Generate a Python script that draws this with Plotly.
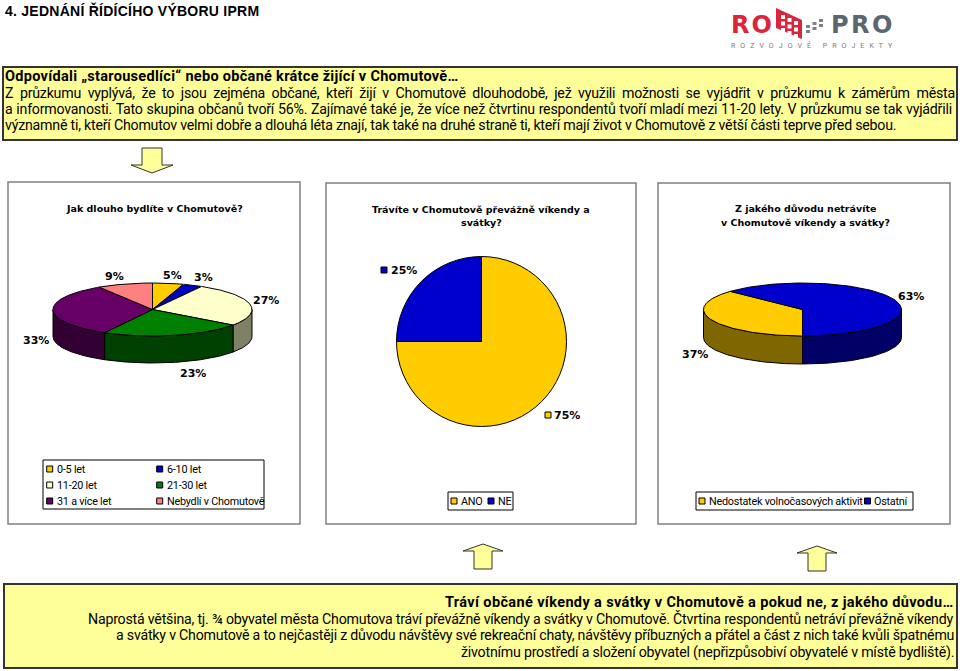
import numpy as np
import plotly.graph_objects as go

W, H = 960, 671

# chart data
stay_labels = ["0-5 let", "6-10 let", "11-20 let", "21-30 let", "31 a více let", "Nebydlí v Chomutově"]
stay_values = [5, 3, 27, 23, 33, 9]
weekend_labels = ["ANO", "NE"]
weekend_values = [75, 25]
reason_labels = ["Nedostatek volnočasových aktivit", "Ostatní"]
reason_values = [37, 63]

stay_colors = ["#FFCC00", "#0000CC", "#FFFFCC", "#008000", "#660066", "#FF8080"]
stay_sides = ["#806600", "#000066", "#808066", "#004000", "#330033", "#804040"]
weekend_colors = ["#FFCC00", "#0000CC"]
reason_colors = ["#FFCC00", "#0000CC"]
reason_sides = ["#806600", "#000066"]

page_title = "4. JEDNÁNÍ ŘÍDÍCÍHO VÝBORU IPRM"
top_head = "Odpovídali „starousedlíci“ nebo občané krátce žijící v Chomutově…"
top_lines = [
    "Z průzkumu vyplývá, že to jsou zejména občané, kteří žijí v Chomutově dlouhodobě, jež využili možnosti se vyjádřit v průzkumu k záměrům města",
    "a informovanosti. Tato skupina občanů tvoří 56%. Zajímavé také je, že více než čtvrtinu respondentů tvoří mladí mezi 11-20 lety. V průzkumu se tak vyjádřili",
    "významně ti, kteří Chomutov velmi dobře a dlouhá léta znají, tak také na druhé straně ti, kteří mají život v Chomutově z větší části teprve před sebou.",
]
bottom_head = "Tráví občané víkendy a svátky v Chomutově a pokud ne, z jakého důvodu…"
bottom_lines = [
    "Naprostá většina, tj. ¾ obyvatel města Chomutova tráví převážně víkendy a svátky v Chomutově. Čtvrtina respondentů netráví převážně víkendy",
    "a svátky v Chomutově a to nejčastěji z důvodu návštěvy své rekreační chaty, návštěvy příbuzných a přátel a část z nich také kvůli špatnému",
    "životnímu prostředí a složení obyvatel (nepřizpůsobiví obyvatelé v místě bydliště).",
]

BODY = "Roboto"
BOLD = "DejaVu Sans"
PAGE_BG = "#FFFF99"

fig = go.Figure()
shapes = []
notes = []


def note(x, y, text, size=11, font=BODY, bold=False, xanchor="left", color="black"):
    if bold:
        text = f"<b>{text}</b>"
    notes.append(dict(x=x, y=y, xref="x", yref="y", text=text, showarrow=False,
                      xanchor=xanchor, yanchor="middle", align=xanchor,
                      font=dict(family=font, size=size, color=color)))


def rect(x0, y0, x1, y1, line="black", width=1, fill="white"):
    shapes.append(dict(type="rect", xref="x", yref="y", x0=x0, y0=y0, x1=x1, y1=y1,
                       line=dict(color=line, width=width), fillcolor=fill, layer="below"))


# tip is the y the arrow points at, tail the other end, works both ways up
def arrow(cx, tip, tail, head_h, head_w, shaft_w):
    base = tip + head_h if tail > tip else tip - head_h
    path = (f"M {cx} {tip} L {cx + head_w} {base} L {cx + shaft_w} {base} "
            f"L {cx + shaft_w} {tail} L {cx - shaft_w} {tail} L {cx - shaft_w} {base} "
            f"L {cx - head_w} {base} Z")
    shapes.append(dict(type="path", xref="x", yref="y", path=path,
                       line=dict(color="#333333", width=1), fillcolor=PAGE_BG, layer="below"))


def poly(xs, ys, fill):
    fig.add_trace(go.Scatter(x=xs, y=ys, mode="lines", fill="toself", fillcolor=fill,
                             line=dict(color="black", width=1), hoverinfo="skip",
                             showlegend=False, xaxis="x", yaxis="y"))


# tilted pie: x = r*sin, y = -ry*cos, walls only on the front half
def tilted_pie(values, colors, sides, cx, cy, rx, ry, depth, start):
    edges = start + np.cumsum([0] + list(values)) * 360.0 / sum(values)
    for i in range(len(values)):
        for lo, hi in ((90, 270), (450, 630)):
            a, b = max(edges[i], lo), min(edges[i + 1], hi)
            if b <= a:
                continue
            t = np.radians(np.linspace(a, b, 60))
            xs = cx + rx * np.sin(t)
            ys = cy - ry * np.cos(t)
            poly(np.r_[xs, xs[::-1], xs[0]], np.r_[ys, ys[::-1] + depth, ys[0]], sides[i])
    for i in range(len(values)):
        t = np.radians(np.linspace(edges[i], edges[i + 1], 120))
        poly(np.r_[cx, cx + rx * np.sin(t), cx], np.r_[cy, cy - ry * np.cos(t), cy], colors[i])


def spaced(text, px, words=0):
    return f'<span style="letter-spacing:{px}px;word-spacing:{words}px">{text}</span>'


def legend_entry(x, y, label, color):
    rect(x - 3, y - 3, x + 3, y + 3, fill=color)
    note(x + 4.8, y, spaced(label, -0.22), size=10.8)


# page text
note(3, 10, spaced(page_title, 0.25), size=14, font="Liberation Sans", bold=True)

# logo
note(729, 25, spaced("RO", 2), size=24, font="DejaVu Sans", bold=True, color="#D9263C")
note(829, 25, spaced("PRO", 2.5), size=24, font="DejaVu Sans", bold=True, color="#5A6670")
shapes.append(dict(type="path", xref="x", yref="y", path="M 776 8 L 802 20 L 802 39 L 776 28 Z",
                   fillcolor="#D9263C", line=dict(width=0), layer="below"))
for col in range(3):
    for row in range(3):
        gx, gy = 781 + col * 6.5, 15 + col * 3 + row * 6.5
        shapes.append(dict(type="rect", xref="x", yref="y", x0=gx, y0=gy, x1=gx + 4, y1=gy + 4,
                           fillcolor="white", line=dict(width=0), layer="above"))
        dx, dy = 806 + col * 6.5, 25 - col * 3 + row * 5
        if row < 2:
            shapes.append(dict(type="rect", xref="x", yref="y", x0=dx, y0=dy, x1=dx + 4, y1=dy + 3,
                               fillcolor="#7A8288", line=dict(width=0), layer="above"))
note(729, 45, spaced("ROZVOJOVÉ PROJEKTY", 5.05), size=7, color="#777777")

# text boxes
rect(3, 67, 957, 140, line="#333333", width=2, fill=PAGE_BG)
note(3, 76, spaced(top_head, 0.3), size=14.5, bold=True)
for y, text, gap in zip((93, 109, 125), top_lines, (3.3, 0.5, 0)):
    note(3, y, spaced(text, -0.22, gap), size=14.2)

rect(4, 584, 957, 668, line="#333333", width=2, fill=PAGE_BG)
note(956, 602, spaced(bottom_head, 0.37), size=14.5, bold=True, xanchor="right")
for y, text in zip((618, 635, 652), bottom_lines):
    note(956, y, spaced(text, -0.22), size=14.2, xanchor="right")

# arrows
arrow(152, 173, 148, 8, 21, 10)
arrow(483, 544, 569, 7, 20, 9)
arrow(817, 546, 571, 7, 20, 9)

# chart frames
rect(8, 182, 300, 524, line="#808080", width=1.5)
rect(326, 183, 636, 524, line="#808080", width=1.5)
rect(658, 183, 950, 524, line="#808080", width=1.5)

# chart 1
note(154, 208, "Jak dlouho bydlíte v Chomutově?", size=9.5, font=BOLD, bold=True, xanchor="center")
tilted_pie(stay_values, stay_colors, stay_sides, 152.5, 309.5, 99.5, 26.5, 27, 0)
stay_label_pos = [(172, 275), (203, 277), (266, 300), (193, 373), (36, 340), (114, 276)]
for (x, y), v in zip(stay_label_pos, stay_values):
    note(x, y, f"{v}%", size=11, font=BOLD, bold=True, xanchor="center")
rect(43, 460, 264, 509)
for i, lab in enumerate(stay_labels):
    legend_entry(49.7 + 110 * (i % 2), 469 + 16 * (i // 2), lab, stay_colors[i])

# chart 2
note(481, 209, "Trávíte v Chomutově převážně víkendy a", size=9.5, font=BOLD, bold=True, xanchor="center")
note(481, 222, "svátky?", size=9.5, font=BOLD, bold=True, xanchor="center")
cx2, cy2, r2 = 481.5, 341.5, 85
fig.add_trace(go.Pie(labels=weekend_labels, values=weekend_values, sort=False, direction="clockwise",
                     rotation=0, textinfo="none", hoverinfo="label+percent", showlegend=False,
                     marker=dict(colors=weekend_colors, line=dict(color="black", width=1)),
                     domain=dict(x=[(cx2 - r2) / W, (cx2 + r2) / W], y=[1 - (cy2 + r2) / H, 1 - (cy2 - r2) / H])))
for (x, y), sx, v, c in zip([(567, 415), (404, 270)], (548, 384), weekend_values, weekend_colors):
    rect(sx - 3, y - 3, sx + 3, y + 3, fill=c)
    note(x, y, f"{v}%", size=11, font=BOLD, bold=True, xanchor="center")
rect(448, 492, 513, 510)
legend_entry(454, 501, weekend_labels[0], weekend_colors[0])
legend_entry(491, 501, weekend_labels[1], weekend_colors[1])

# chart 3
note(805, 208, "Z jakého důvodu netrávíte", size=9.5, font=BOLD, bold=True, xanchor="center")
note(805, 222, "v Chomutově víkendy a svátky?", size=9.5, font=BOLD, bold=True, xanchor="center")
tilted_pie(reason_values, reason_colors, reason_sides, 802.5, 309.5, 99, 26.5, 28, 180)
for (x, y), v in zip([(695, 354), (911, 296)], reason_values):
    note(x, y, f"{v}%", size=11, font=BOLD, bold=True, xanchor="center")
rect(696, 492, 913, 510)
legend_entry(702, 501, reason_labels[0], reason_colors[0])
legend_entry(867.5, 501, reason_labels[1], reason_colors[1])

fig.update_layout(
    width=W, height=H, margin=dict(l=0, r=0, t=0, b=0, pad=0),
    paper_bgcolor="white", plot_bgcolor="white", showlegend=False,
    xaxis=dict(range=[0, W], visible=False, fixedrange=True, domain=[0, 1]),
    yaxis=dict(range=[H, 0], visible=False, fixedrange=True, domain=[0, 1]),
    shapes=shapes, annotations=notes,
)

fig.write_html("out.html", config=dict(displayModeBar=False),
               post_script="document.body.style.margin='0';document.body.style.overflow='hidden';")
